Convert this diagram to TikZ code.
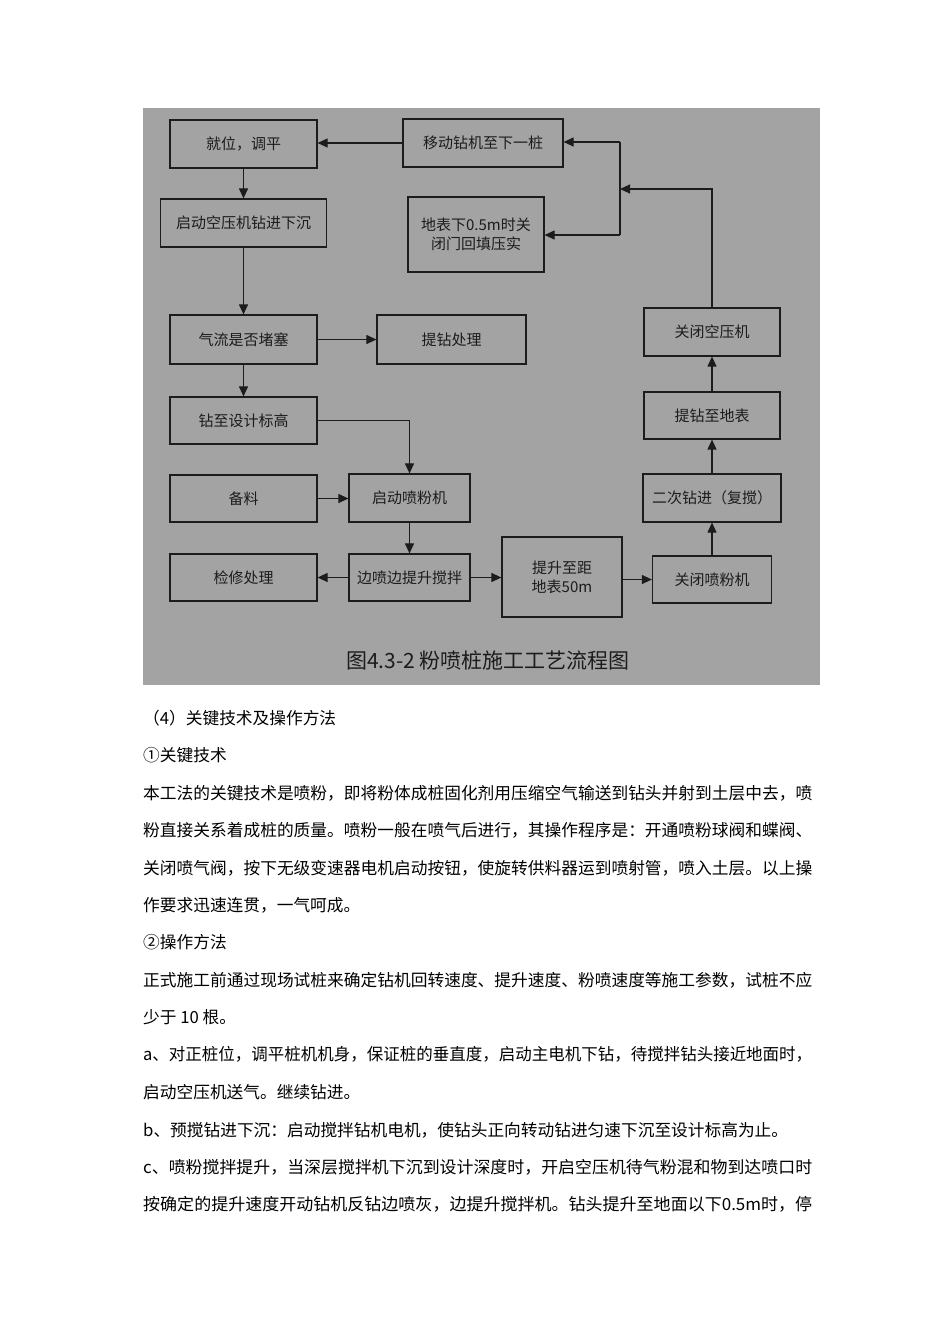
\documentclass[tikz,border=0pt]{standalone}
\usepackage{fontspec}
\usepackage{graphicx}
\setmainfont{Noto Sans CJK SC}
\usetikzlibrary{arrows.meta}
\definecolor{panel}{HTML}{A3A3A3}
\definecolor{ink}{HTML}{1C1C1C}
\newcommand{\fl}[1]{\resizebox{669pt}{\height}{#1}}
\begin{document}
\begin{tikzpicture}[x=1pt,y=-1pt,
  box/.style={draw=ink, line width=1.2pt, fill=panel, inner sep=0pt, align=center,
    font=\fontsize{15}{19}\selectfont, text=ink},
  arr/.style={draw=ink, line width=1.1pt, -{Triangle[length=10pt,width=9pt]}},
  ln/.style={draw=ink, line width=1.1pt},
  body/.style={anchor=west, inner sep=0pt, font=\fontsize{16.7}{17}\selectfont, text=black}]
\useasboundingbox[fill=white] (0,0) rectangle (950,1344);
\fill[panel] (143,108) rectangle (820,685);
% boxes
\node[box, minimum width=147, minimum height=48] (b1) at (243.5,144) {就位，调平};
\node[box, minimum width=160, minimum height=48] (b2) at (483,143) {移动钻机至下一桩};
\node[box, minimum width=166, minimum height=48] (b3) at (243.5,223) {启动空压机钻进下沉};
\node[box, minimum width=136, minimum height=75] (b4) at (476,234.5) {地表下0.5m时关\\闭门回填压实};
\node[box, minimum width=147, minimum height=49] (b5) at (243.5,339.5) {气流是否堵塞};
\node[box, minimum width=149, minimum height=49] (b6) at (451.5,339.5) {提钻处理};
\node[box, minimum width=147, minimum height=47] (b7) at (243.5,420.5) {钻至设计标高};
\node[box, minimum width=147, minimum height=47] (b8) at (243.5,498.5) {备料};
\node[box, minimum width=121, minimum height=48] (b9) at (409.5,498) {启动喷粉机};
\node[box, minimum width=147, minimum height=47] (b10) at (243.5,577.5) {检修处理};
\node[box, minimum width=121, minimum height=47] (b11) at (409.5,577.5) {边喷边提升搅拌};
\node[box, minimum width=120, minimum height=80] (b12) at (562,577) {提升至距\\地表50m};
\node[box, minimum width=119, minimum height=47] (b13) at (712,579.5) {关闭喷粉机};
\node[box, minimum width=138, minimum height=48] (b14) at (712,498) {二次钻进（复搅）};
\node[box, minimum width=136, minimum height=47] (b15) at (712,415.5) {提钻至地表};
\node[box, minimum width=136, minimum height=48] (b16) at (712,332) {关闭空压机};
\node[anchor=center, inner sep=0pt, text=ink, font=\fontsize{21}{21}\selectfont] (cap) at (488,660) {图4.3-2\ 粉喷桩施工工艺流程图};
% connectors
\draw[arr] (b2.west) -- (b2.west -| b1.east);
\draw[arr] (b1.south) -- (b1.south |- b3.north);
\draw[arr] (b3.south) -- (b3.south |- b5.north);
\draw[arr] (b5.east) -- (b5.east -| b6.west);
\draw[arr] (b5.south) -- (b5.south |- b7.north);
\draw[arr] (b7.east) -| (b9.north);
\draw[arr] (b8.east) -- (b8.east -| b9.west);
\draw[arr] (b9.south) -- (b9.south |- b11.north);
\draw[arr] (b11.west) -- (b11.west -| b10.east);
\draw[arr] (b11.east) -- (b11.east -| b12.west);
\draw[arr] (b12.east |- b13.west) -- (b13.west);
\draw[arr] (b13.north) -- (b13.north |- b14.south);
\draw[arr] (b14.north) -- (b14.north |- b15.south);
\draw[arr] (b15.north) -- (b15.north |- b16.south);
\coordinate (j) at (620,189);
\coordinate (jt) at (620,142);
\coordinate (jb) at (620,235);
\draw[arr] (b16.north) |- (j);
\draw[ln] (jt) -- (jb);
\draw[arr] (jt) -- (jt -| b2.east);
\draw[arr] (jb) -- (jb -| b4.east);
% body text
\node[body] (t1) at (143,718) {（4）关键技术及操作方法};
\node[body] (t2) at (143,755) {①关键技术};
\node[body] (t3) at (143,793) {\fl{本工法的关键技术是喷粉，即将粉体成桩固化剂用压缩空气输送到钻头并射到土层中去，喷}};
\node[body] (t4) at (143,830) {\fl{粉直接关系着成桩的质量。喷粉一般在喷气后进行，其操作程序是：开通喷粉球阀和蝶阀、}};
\node[body] (t5) at (143,868) {\fl{关闭喷气阀，按下无级变速器电机启动按钮，使旋转供料器运到喷射管，喷入土层。以上操}};
\node[body] (t6) at (143,905) {作要求迅速连贯，一气呵成。};
\node[body] (t7) at (143,942) {②操作方法};
\node[body] (t8) at (143,980) {\fl{正式施工前通过现场试桩来确定钻机回转速度、提升速度、粉喷速度等施工参数，试桩不应}};
\node[body] (t9) at (143,1017) {少于 10 根。};
\node[body] (t10) at (143,1054) {\fl{a、对正桩位，调平桩机机身，保证桩的垂直度，启动主电机下钻，待搅拌钻头接近地面时，}};
\node[body] (t11) at (143,1092) {启动空压机送气。继续钻进。};
\node[body] (t12) at (143,1130) {b、预搅钻进下沉：启动搅拌钻机电机，使钻头正向转动钻进匀速下沉至设计标高为止。};
\node[body] (t13) at (143,1167) {\fl{c、喷粉搅拌提升，当深层搅拌机下沉到设计深度时，开启空压机待气粉混和物到达喷口时}};
\node[body] (t14) at (143,1204) {\fl{按确定的提升速度开动钻机反钻边喷灰，边提升搅拌机。钻头提升至地面以下0.5m时，停}};
\end{tikzpicture}
\end{document}
